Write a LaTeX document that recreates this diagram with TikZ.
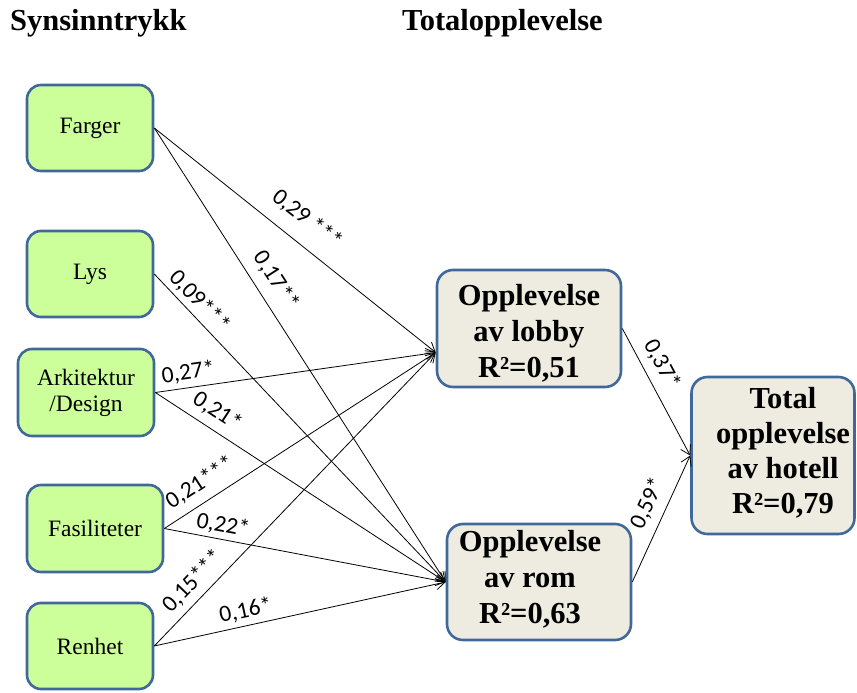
\documentclass[tikz,border=0pt]{standalone}
\usepackage{fontspec}
\setmainfont{Liberation Serif}
\newfontfamily\lblfont{Carlito}
\usetikzlibrary{arrows.meta,calc}
\definecolor{boxgreen}{HTML}{CCFF99}
\definecolor{boxbeige}{HTML}{EEECE1}
\definecolor{boxborder}{HTML}{41689A}
\begin{document}
\begin{tikzpicture}[x=1pt,y=-1pt,
  inbox/.style={draw=boxborder, line width=2.6pt, rounded corners=14pt, fill=boxgreen,
    font=\fontsize{23.5}{26}\selectfont, align=center, inner sep=0pt},
  midbox/.style={draw=boxborder, line width=2.6pt, rounded corners=16pt, fill=boxbeige,
    font=\bfseries\fontsize{30.5}{36}\selectfont, align=center, inner sep=0pt},
  conn/.style={-{Straight Barb[length=9pt,width=11pt]}, line width=0.8pt, black},
  lbl/.style={sloped, font=\lblfont\fontsize{23.5}{25}\selectfont, inner sep=0pt, anchor=center},
  title/.style={font=\bfseries\fontsize{30.5}{36}\selectfont, inner sep=0pt, anchor=base west}]

\useasboundingbox (0,0) rectangle (857,693);

\node[title] (t1) at (10,31) {Synsinntrykk};
\node[title] (t2) at (402,31) {Totalopplevelse};

\node[inbox, minimum width=126pt, minimum height=86pt] (farger) at (90,128) {Farger};
\node[inbox, minimum width=126pt, minimum height=86pt] (lys) at (90,274) {Lys};
\node[inbox, minimum width=136pt, minimum height=87pt] (ark) at (86,392.5) {Arkitektur\\/Design};
\node[inbox, minimum width=136pt, minimum height=87pt] (fas) at (95,528.5) {Fasiliteter};
\node[inbox, minimum width=126pt, minimum height=86pt] (ren) at (90,646) {Renhet};

\node[midbox, minimum width=184pt, minimum height=117pt] (lobby) at (529,328.5)
  {\rule{0pt}{30pt}Opplevelse\\av lobby\\R²=0,51};
\node[midbox, minimum width=184pt, minimum height=116pt] (rom) at (539,582)
  {\begin{tabular}{@{}c@{\hspace{18pt}}}Opplevelse\\av rom\\R²=0,63\rule[-14pt]{0pt}{0pt}\end{tabular}};
\node[midbox, minimum width=163pt, minimum height=157pt,
  font=\bfseries\fontsize{30.5}{35}\selectfont] (tot) at (773,455.5)
  {\begin{tabular}{@{\hspace{20pt}}c@{}}Total\\opplevelse\\av hotell\\R²=0,79\rule[-14pt]{0pt}{0pt}\end{tabular}};

\coordinate (lobbyin) at ($(lobby.west)+(0,24)$);

\draw[conn] (farger.east) -- (lobbyin) node[lbl, pos=0.49, yshift=24pt] {0,29 ***};
\draw[conn] (farger.east) -- (rom.west) node[lbl, pos=0.36, yshift=20pt] {0,17**};
\draw[conn] (lys.east) -- (rom.west) node[lbl, pos=0.12, yshift=14pt] {0,09***};
\draw[conn] (ark.east) -- (lobbyin) node[lbl, pos=0.125, yshift=15pt] {0,27*};
\draw[conn] (ark.east) -- (rom.west) node[lbl, pos=0.18, yshift=18pt] {0,21*};
\draw[conn] (fas.east) -- (lobbyin) node[lbl, pos=0.17, yshift=19pt] {0,21***};
\draw[conn] (fas.east) -- (rom.west) node[lbl, pos=0.2, yshift=14pt] {0,22*};
\draw[conn] (ren.east) -- (lobbyin) node[lbl, pos=0.18, yshift=17pt] {0,15***};
\draw[conn] (ren.east) -- (rom.west) node[lbl, pos=0.325, yshift=15pt] {0,16*};
\draw[conn] (lobby.east) -- (tot.west) node[lbl, pos=0.35, yshift=18pt] {0,37*};
\draw[conn] (rom.east) -- (tot.west) node[lbl, pos=0.56, yshift=19pt] {0,59*};
\end{tikzpicture}
\end{document}
